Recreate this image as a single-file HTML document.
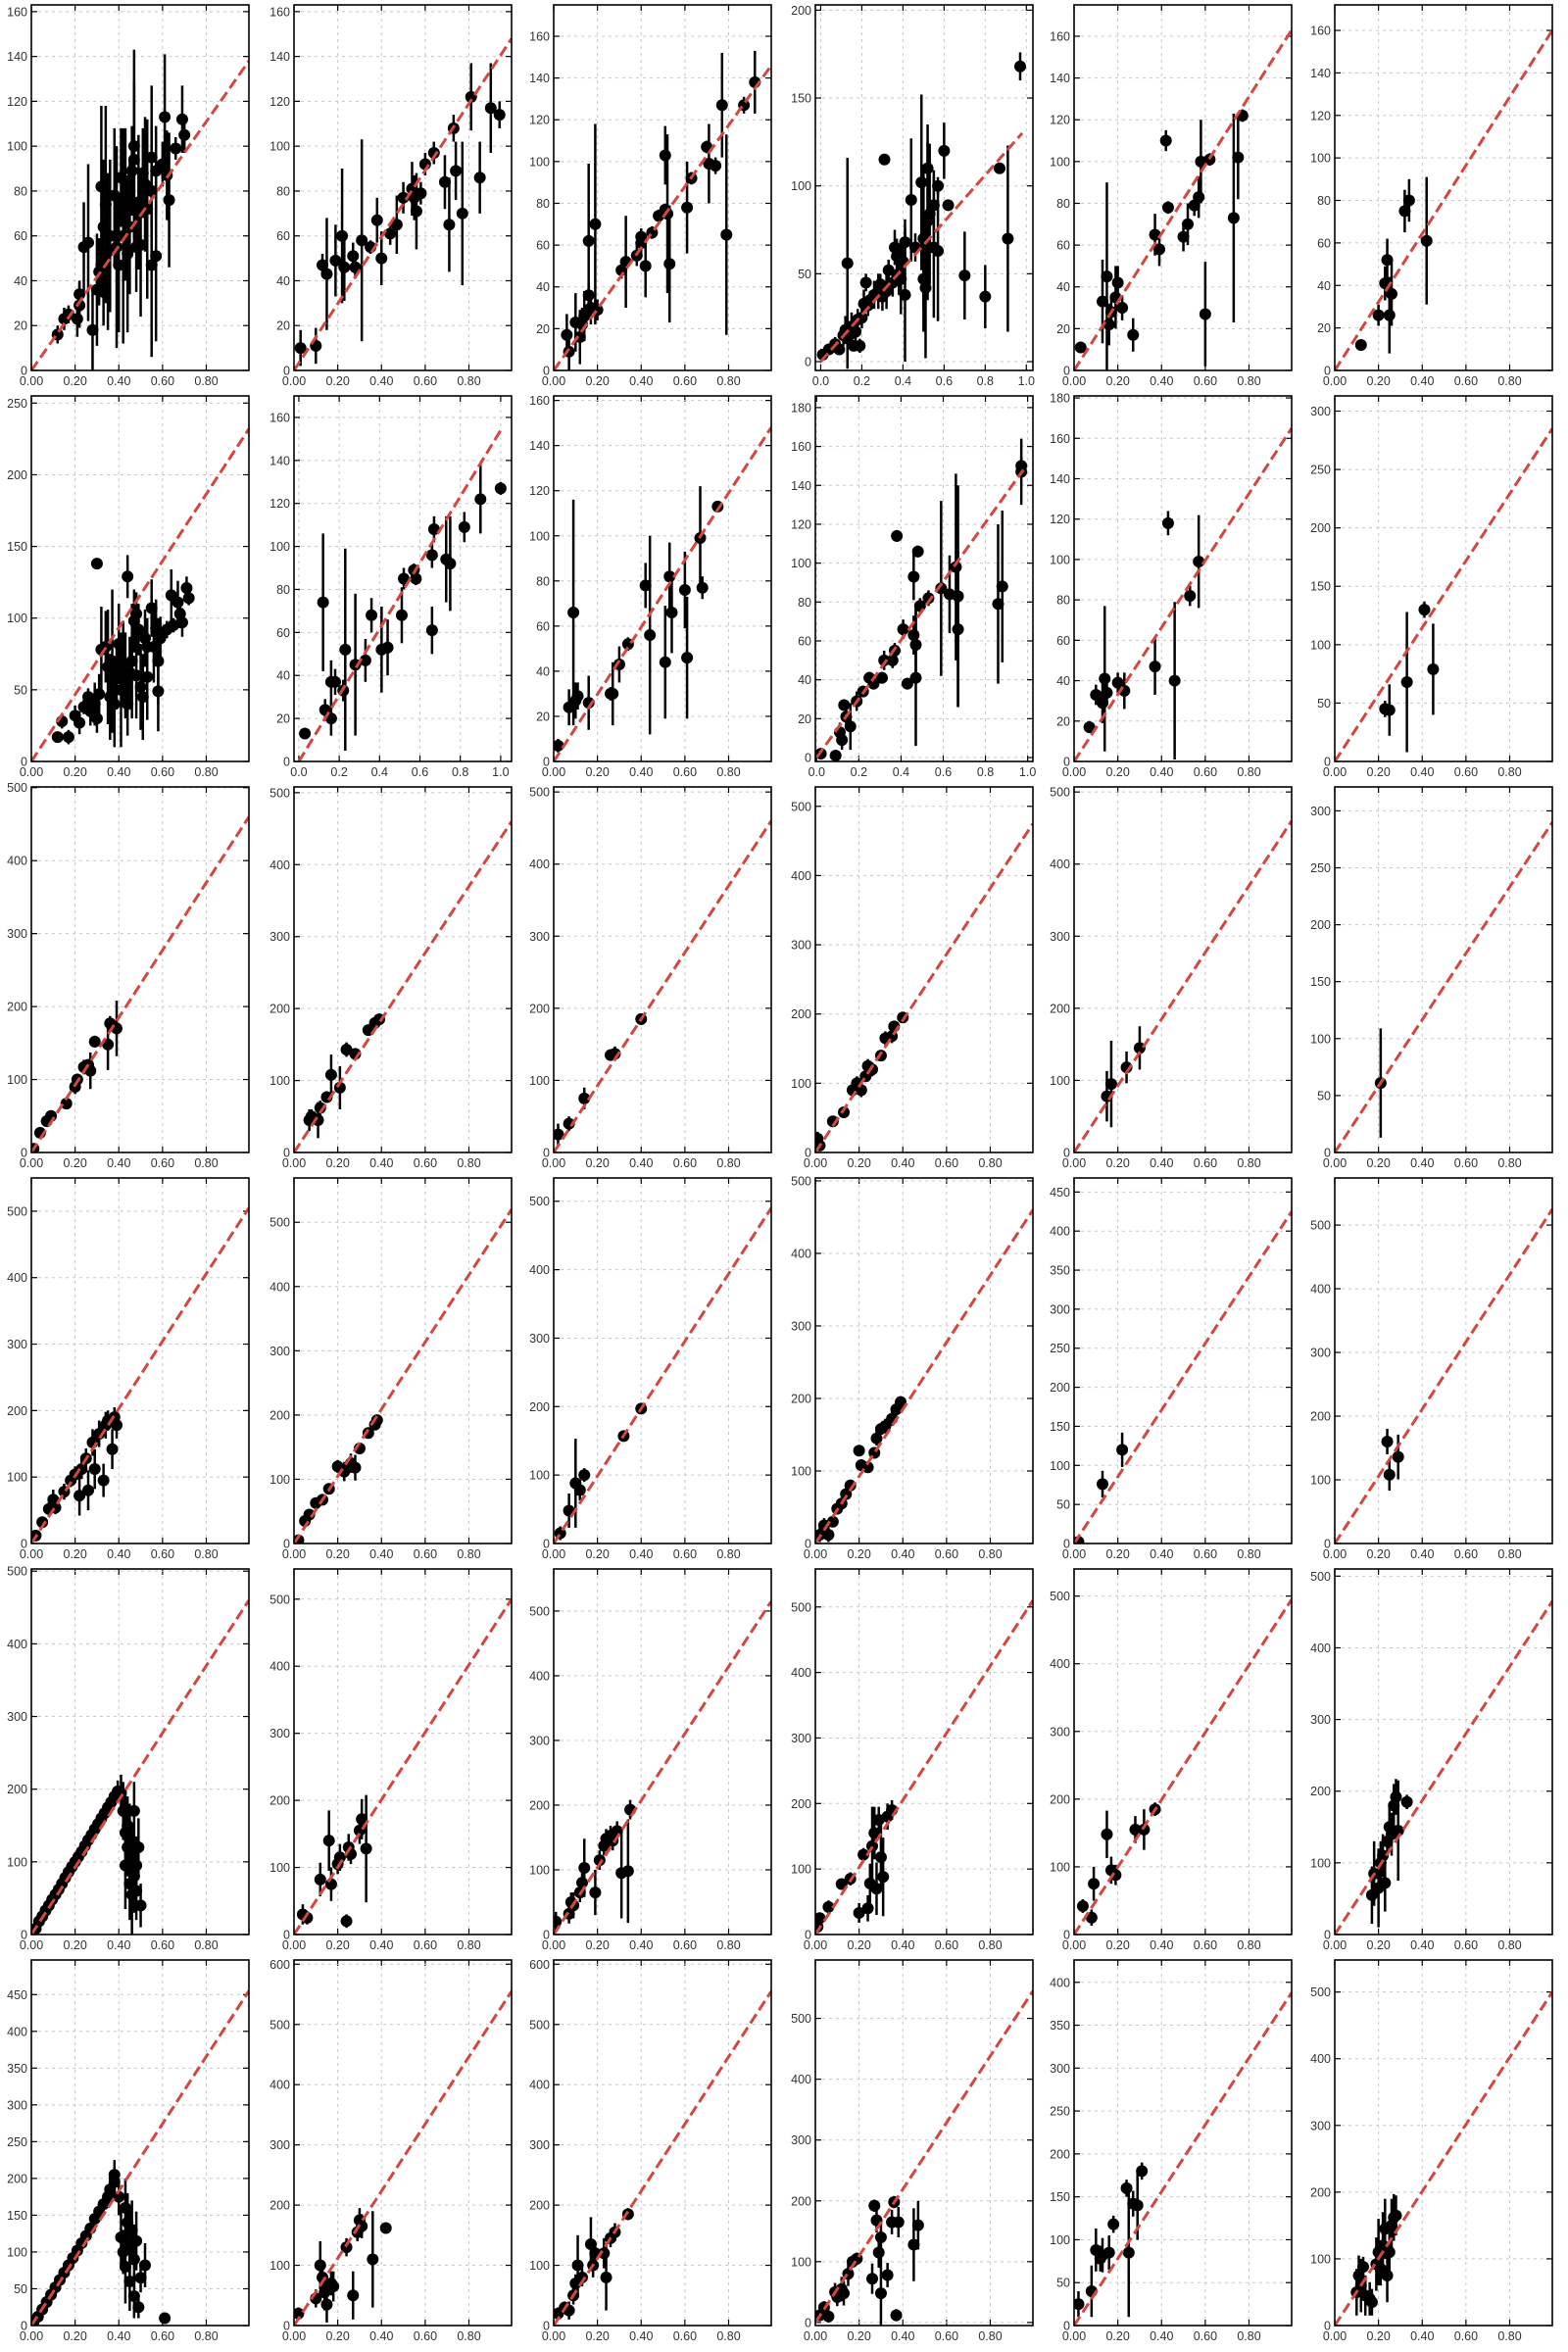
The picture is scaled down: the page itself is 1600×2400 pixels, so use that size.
<!DOCTYPE html>
<html><head><meta charset="utf-8"><title>Scatter grid</title>
<style>
html,body{margin:0;padding:0;background:#fff;}
svg{display:block;}
text{font-family:"Liberation Sans","DejaVu Sans",sans-serif;font-size:12.5px;fill:#333;}
</style></head>
<body>
<svg id="chart" width="1600" height="2400" viewBox="0 0 1600 2400" xmlns="http://www.w3.org/2000/svg"></svg>
<script>
// ---------- layout (not data) ----------
const colLefts = [32, 300, 565, 832, 1096, 1362];
const rowTops = [5, 404, 803, 1202, 1601, 2000];
const PW = 222, PH = 373;

// ---------- axis config per panel ----------
const yMins  = [0,0,0,-5,0,0, 0,0,0,-2,0,0, 0,0,0,0,0,0, 0,0,0,0,0,0, 0,0,0,0,0,0, 0,0,0,-5,0,0];
const yMaxs  = [163,163,175,203,175,172, 255,170,162,186,181,313, 501,508,507,528,507,321, 550,569,534,504,468,574, 503,545,565,558,540,510, 497,607,607,596,426,548];
const ySteps = [20,20,20,50,20,20, 50,20,20,20,20,50, 100,100,100,100,100,50, 100,100,100,100,50,100, 100,100,100,100,100,100, 50,100,100,100,50,100];
const xMins  = [0,0,0,-0.026,0,0, 0,-0.024,0,-0.006,0,0, 0,0,0,0,0,0, 0,0,0,0,0,0, 0,0,0,0,0,0, 0,0,0,0,0,0];
const xMaxs  = [0.995,0.995,0.995,1.032,0.995,0.995, 0.995,1.054,0.995,1.025,0.995,0.995, 0.995,0.995,0.995,0.995,0.995,0.995, 0.995,0.995,0.995,0.995,0.995,0.995, 0.995,0.995,0.995,0.995,0.995,0.995, 0.995,0.995,0.995,0.995,0.995,0.995];
const xTickDec = [2,2,2,1,2,2, 2,1,2,1,2,2, 2,2,2,2,2,2, 2,2,2,2,2,2, 2,2,2,2,2,2, 2,2,2,2,2,2];
// reference line: from (0,0) to (lineX2, lineY2)
const lineX2 = [0.995,0.995,0.995,0.98,0.995,0.995, 0.995,1.0,0.995,0.98,0.995,0.995, 0.995,0.995,0.995,0.995,0.995,0.995, 0.995,0.995,0.995,0.995,0.995,0.995, 0.995,0.995,0.995,0.995,0.995,0.995, 0.995,0.995,0.995,0.995,0.995,0.995];
const lineY2 = [138,148,146,130,163,160, 232,154,148,148,165,285, 460,460,460,475,460,290, 505,520,490,460,425,525, 460,500,515,510,495,465, 455,555,555,545,388,500];

// ---------- point data [x, y, err] ----------
const p01 = [[0.12,16,4],[0.15,23,5],[0.17,25,4],[0.21,23,8],[0.22,29,10],[0.22,34,6],[0.24,55,20],[0.26,57,35],[0.28,18,18],[0.30,36,25],[0.31,44,15],[0.32,47,12],[0.32,82,36],[0.33,64,30],[0.34,74,44],[0.33,35,15],[0.35,53,35],[0.36,60,34],[0.38,78,30],[0.39,55,45],[0.40,47,30],[0.41,86,22],[0.42,60,48],[0.43,74,34],[0.44,52,35],[0.45,64,30],[0.46,89,20],[0.47,100,43],[0.47,94,35],[0.48,55,20],[0.49,75,30],[0.50,56,32],[0.51,88,20],[0.52,83,30],[0.53,72,40],[0.55,47,41],[0.55,95,32],[0.55,80,30],[0.57,51,38],[0.57,89,20],[0.60,92,10],[0.61,113,28],[0.62,87,20],[0.63,76,30],[0.66,99,5],[0.69,112,15],[0.70,105,8]];
const p02 = [[0.03,10,8],[0.10,11,8],[0.13,47,5],[0.15,43,25],[0.19,49,16],[0.22,60,30],[0.23,46,15],[0.27,51,6],[0.28,46,5],[0.31,58,45],[0.35,55,3],[0.38,67,10],[0.40,50,12],[0.44,61,5],[0.47,65,13],[0.50,77,7],[0.54,81,12],[0.55,77,10],[0.56,71,17],[0.58,79,5],[0.60,92,5],[0.64,97,5],[0.69,84,12],[0.71,65,21],[0.73,108,6],[0.74,89,13],[0.77,70,32],[0.81,122,15],[0.85,86,16],[0.90,117,20],[0.94,114,6]];
const p03 = [[0.06,17,10],[0.07,9,9],[0.10,23,14],[0.12,16,13],[0.13,22,8],[0.14,26,12],[0.16,62,37],[0.16,36,6],[0.17,30,8],[0.19,70,48],[0.20,29,5],[0.31,48,4],[0.33,52,22],[0.38,55,5],[0.40,61,5],[0.40,64,4],[0.42,50,15],[0.45,66,3],[0.48,74,3],[0.51,77,2],[0.51,103,14],[0.52,75,38],[0.53,51,28],[0.61,78,22],[0.63,92,3],[0.70,107,3],[0.71,99,19],[0.74,98,4],[0.77,127,25],[0.79,65,48],[0.87,127,4],[0.92,138,15]];
const p04 = [[0.01,4,2],[0.04,7,3],[0.07,10,4],[0.09,7,3],[0.11,15,6],[0.12,18,8],[0.13,56,60],[0.14,15,8],[0.15,20,8],[0.16,9,3],[0.17,17,5],[0.18,24,6],[0.19,9,4],[0.20,25,6],[0.21,33,8],[0.22,45,5],[0.23,32,6],[0.24,35,5],[0.26,38,8],[0.28,40,10],[0.29,44,6],[0.30,37,8],[0.31,115,3],[0.32,40,10],[0.33,52,6],[0.35,45,8],[0.36,65,10],[0.37,60,10],[0.38,50,12],[0.39,47,20],[0.40,57,12],[0.41,38,38],[0.41,68,13],[0.44,92,35],[0.46,65,8],[0.49,102,50],[0.50,70,40],[0.50,47,30],[0.51,42,40],[0.52,80,45],[0.52,110,25],[0.53,84,40],[0.55,65,40],[0.55,89,20],[0.57,100,5],[0.57,63,40],[0.60,120,16],[0.62,89,3],[0.70,49,25],[0.80,37,18],[0.87,110,3],[0.91,70,53],[0.97,168,8]];
const p05 = [[0.03,11,0],[0.13,33,20],[0.15,45,45],[0.16,22,10],[0.17,28,8],[0.19,35,15],[0.20,42,8],[0.22,30,6],[0.27,17,8],[0.37,65,10],[0.39,58,8],[0.42,110,5],[0.43,78,3],[0.50,64,7],[0.52,70,10],[0.55,79,5],[0.57,83,10],[0.58,100,20],[0.60,27,25],[0.62,101,3],[0.73,73,50],[0.75,102,20],[0.77,122,3]];
const p06 = [[0.12,12,0],[0.20,26,5],[0.23,41,8],[0.24,52,10],[0.25,26,18],[0.26,36,15],[0.32,75,10],[0.34,80,10],[0.42,61,30]];
const p07 = [[0.12,17,3],[0.14,28,5],[0.17,17,5],[0.20,32,7],[0.22,27,8],[0.24,38,5],[0.26,45,6],[0.27,35,10],[0.29,40,15],[0.30,138,3],[0.30,30,10],[0.31,47,14],[0.32,78,30],[0.34,80,25],[0.35,66,40],[0.36,45,30],[0.37,70,50],[0.38,40,30],[0.39,60,20],[0.40,82,28],[0.41,50,40],[0.42,68,30],[0.43,60,30],[0.44,129,15],[0.44,40,22],[0.45,62,25],[0.46,70,40],[0.47,98,22],[0.48,103,15],[0.48,60,30],[0.49,92,18],[0.50,52,30],[0.51,45,30],[0.52,86,20],[0.53,59,30],[0.53,80,20],[0.55,107,20],[0.56,80,25],[0.57,93,20],[0.58,70,30],[0.58,49,28],[0.59,86,15],[0.62,92,6],[0.64,116,18],[0.65,95,5],[0.67,111,15],[0.68,103,10],[0.69,97,10],[0.71,121,8],[0.72,114,5]];
const p08 = [[0.03,13,2],[0.12,74,32],[0.13,24,5],[0.16,37,10],[0.16,20,8],[0.18,37,6],[0.22,33,5],[0.23,52,47],[0.28,45,33],[0.33,47,10],[0.36,68,8],[0.41,52,20],[0.44,53,13],[0.51,68,13],[0.52,85,5],[0.57,89,3],[0.58,85,3],[0.66,96,6],[0.66,61,11],[0.67,108,6],[0.73,94,20],[0.75,92,22],[0.82,109,7],[0.90,122,16],[1.0,127,3]];
const p09 = [[0.02,7,3],[0.07,24,8],[0.09,66,50],[0.10,27,8],[0.11,29,6],[0.16,26,12],[0.26,30,3],[0.27,30,14],[0.30,43,8],[0.34,52,3],[0.42,78,10],[0.44,56,44],[0.51,44,25],[0.53,82,15],[0.54,66,18],[0.60,76,17],[0.61,46,27],[0.67,99,23],[0.68,77,5],[0.75,113,2]];
const p10 = [[0.02,2,2],[0.09,1,1],[0.11,13,5],[0.12,9,5],[0.13,27,3],[0.14,21,5],[0.16,16,12],[0.19,29,5],[0.22,34,3],[0.25,41,3],[0.27,38,3],[0.31,41,3],[0.32,50,5],[0.36,50,4],[0.37,55,4],[0.38,114,3],[0.41,66,5],[0.43,38,3],[0.46,63,10],[0.46,93,12],[0.47,58,20],[0.47,41,35],[0.48,106,3],[0.49,78,4],[0.53,82,4],[0.59,87,45],[0.63,84,20],[0.66,98,48],[0.67,66,40],[0.67,83,57],[0.86,79,41],[0.88,88,39],[0.97,147,17],[0.97,150,5]];
const p11 = [[0.07,17,3],[0.10,33,5],[0.13,29,10],[0.14,41,36],[0.15,34,6],[0.20,39,5],[0.23,35,9],[0.37,47,14],[0.43,118,6],[0.46,40,39],[0.53,82,5],[0.57,99,23]];
const p12 = [[0.23,45,7],[0.25,44,22],[0.33,68,60],[0.41,130,7],[0.45,79,39]];
const p13 = [[0.01,5,3],[0.04,27,5],[0.07,43,5],[0.09,50,5],[0.16,67,5],[0.20,90,10],[0.21,100,8],[0.24,117,10],[0.26,120,8],[0.27,112,25],[0.29,152,8],[0.35,148,35],[0.36,177,10],[0.39,170,38]];
const p14 = [[0.07,45,15],[0.08,50,10],[0.11,45,25],[0.12,62,10],[0.15,77,8],[0.17,108,28],[0.21,90,30],[0.24,143,10],[0.28,137,8],[0.34,170,6],[0.37,180,8],[0.39,185,8]];
const p15 = [[0.02,25,15],[0.07,40,10],[0.14,75,15],[0.26,135,8],[0.28,137,10],[0.40,185,8]];
const p16 = [[0.01,20,10],[0.02,10,5],[0.08,45,5],[0.13,58,5],[0.17,90,10],[0.19,100,10],[0.21,90,10],[0.23,110,5],[0.24,125,10],[0.26,120,10],[0.30,140,8],[0.32,165,10],[0.35,168,10],[0.36,182,8],[0.40,195,8]];
const p17 = [[0.15,78,35],[0.17,95,60],[0.24,118,22],[0.30,145,30]];
const p18 = [[0.21,61,48]];
const p19 = [[0.02,12,8],[0.05,32,8],[0.08,52,10],[0.10,66,15],[0.11,54,10],[0.15,78,12],[0.18,95,10],[0.20,104,12],[0.22,72,30],[0.23,112,15],[0.25,128,15],[0.26,80,30],[0.28,152,20],[0.29,112,30],[0.31,165,20],[0.33,95,25],[0.34,178,20],[0.35,185,15],[0.37,142,30],[0.38,190,15],[0.39,178,20]];
const p20 = [[0.02,5,5],[0.05,35,5],[0.07,45,5],[0.10,63,8],[0.13,68,5],[0.16,85,8],[0.20,120,10],[0.23,112,15],[0.26,125,15],[0.28,118,20],[0.30,148,8],[0.34,172,8],[0.37,185,8],[0.38,192,8]];
const p21 = [[0.03,15,10],[0.07,48,25],[0.10,88,65],[0.12,78,15],[0.14,100,10],[0.32,157,8],[0.40,197,8]];
const p22 = [[0.02,12,10],[0.04,25,10],[0.06,12,10],[0.08,30,5],[0.10,48,8],[0.12,55,8],[0.14,68,8],[0.16,80,8],[0.20,128,5],[0.21,108,8],[0.24,105,5],[0.27,125,8],[0.28,145,10],[0.30,158,8],[0.32,162,10],[0.35,172,10],[0.37,185,10],[0.39,195,8]];
const p23 = [[0.02,2,2],[0.13,76,17],[0.22,120,22]];
const p24 = [[0.24,160,20],[0.25,108,25],[0.29,136,35]];
const p25 = [[0.02,8,5],[0.035,18,5],[0.05,25,5],[0.065,33,5],[0.08,40,5],[0.095,48,5],[0.11,55,5],[0.125,62,5],[0.14,70,5],[0.155,78,5],[0.17,86,5],[0.185,93,5],[0.20,100,5],[0.215,107,5],[0.23,114,5],[0.245,122,5],[0.26,130,5],[0.275,137,5],[0.29,145,5],[0.305,152,5],[0.32,160,5],[0.335,167,8],[0.35,175,8],[0.365,182,10],[0.38,190,12],[0.395,197,15],[0.41,195,25],[0.42,170,40],[0.43,140,60],[0.43,95,60],[0.44,120,40],[0.44,150,40],[0.45,70,50],[0.45,130,50],[0.46,110,40],[0.46,55,60],[0.47,170,40],[0.47,80,50],[0.48,95,40],[0.48,60,40],[0.49,120,40],[0.50,40,30]];
const p26 = [[0.04,30,15],[0.06,25,10],[0.12,82,25],[0.16,140,45],[0.17,75,25],[0.20,105,15],[0.21,115,20],[0.24,20,10],[0.25,130,20],[0.26,120,15],[0.30,155,20],[0.31,172,30],[0.33,128,80]];
const p27 = [[0.01,20,15],[0.07,32,15],[0.08,50,15],[0.09,45,20],[0.12,65,15],[0.13,80,15],[0.14,103,45],[0.19,65,35],[0.21,115,15],[0.23,137,15],[0.24,148,15],[0.26,153,15],[0.27,145,15],[0.29,160,15],[0.31,95,70],[0.34,98,80],[0.35,193,15]];
const p28 = [[0.01,12,10],[0.02,25,8],[0.06,42,10],[0.12,77,8],[0.16,85,10],[0.20,33,15],[0.22,122,10],[0.24,40,20],[0.25,78,30],[0.26,135,60],[0.27,155,40],[0.28,70,40],[0.29,175,20],[0.30,118,50],[0.31,88,60],[0.33,180,20],[0.35,190,15]];
const p29 = [[0.04,42,10],[0.08,25,12],[0.09,75,25],[0.15,148,35],[0.17,95,20],[0.19,88,15],[0.28,155,20],[0.32,155,30],[0.37,185,10]];
const p30 = [[0.17,55,40],[0.18,85,45],[0.20,65,55],[0.21,100,30],[0.22,110,30],[0.23,72,40],[0.24,130,20],[0.25,150,30],[0.26,140,30],[0.27,180,30],[0.28,192,25],[0.29,145,70],[0.33,185,10]];
const p31 = [[0.01,5,8],[0.03,12,8],[0.05,22,8],[0.07,32,8],[0.09,42,8],[0.11,52,8],[0.13,62,8],[0.15,72,8],[0.17,82,8],[0.19,92,8],[0.21,102,8],[0.23,112,8],[0.25,122,8],[0.27,132,8],[0.29,145,8],[0.31,155,10],[0.33,165,12],[0.35,175,15],[0.36,185,20],[0.38,195,20],[0.38,205,20],[0.40,175,25],[0.41,120,40],[0.42,100,30],[0.43,80,50],[0.43,160,40],[0.44,140,40],[0.45,110,50],[0.45,60,40],[0.46,130,40],[0.47,90,40],[0.47,40,30],[0.48,115,40],[0.49,25,15],[0.50,65,20],[0.52,82,30],[0.61,10,5]];
const p32 = [[0.02,20,10],[0.10,45,15],[0.12,100,40],[0.13,80,20],[0.14,55,30],[0.15,35,30],[0.17,70,20],[0.18,65,25],[0.24,130,15],[0.27,50,40],[0.29,155,15],[0.30,175,20],[0.31,165,20],[0.36,110,80],[0.42,162,8]];
const p33 = [[0.02,20,10],[0.05,30,10],[0.07,25,15],[0.09,50,15],[0.10,70,15],[0.11,100,50],[0.13,80,15],[0.17,135,45],[0.18,100,20],[0.19,120,15],[0.23,120,25],[0.24,80,55],[0.26,145,15],[0.28,155,15],[0.34,185,10]];
const p34 = [[0.02,12,10],[0.04,25,10],[0.06,10,10],[0.09,50,15],[0.10,42,15],[0.12,55,20],[0.13,48,20],[0.15,80,20],[0.17,100,10],[0.19,105,10],[0.26,72,25],[0.27,192,10],[0.28,168,20],[0.29,115,25],[0.30,140,30],[0.30,48,60],[0.33,78,20],[0.35,165,20],[0.36,198,10],[0.37,12,10],[0.38,165,25],[0.45,128,60],[0.47,160,40]];
const p35 = [[0.02,25,15],[0.08,40,30],[0.10,88,25],[0.12,78,15],[0.13,82,20],[0.16,85,20],[0.18,118,10],[0.24,160,10],[0.25,85,75],[0.27,142,15],[0.29,140,40],[0.31,180,10]];
const p36 = [[0.10,50,35],[0.11,75,30],[0.12,60,40],[0.13,88,15],[0.14,45,30],[0.16,40,25],[0.17,35,20],[0.19,92,40],[0.20,110,50],[0.21,85,25],[0.22,120,50],[0.23,145,45],[0.24,75,40],[0.25,110,40],[0.26,150,40],[0.27,162,35],[0.28,165,30]];

const allPanels = [p01,p02,p03,p04,p05,p06,p07,p08,p09,p10,p11,p12,p13,p14,p15,p16,p17,p18,p19,p20,p21,p22,p23,p24,p25,p26,p27,p28,p29,p30,p31,p32,p33,p34,p35,p36];

// ---------- drawing ----------
const NS = 'http://www.w3.org/2000/svg';
const svg = document.getElementById('chart');
function mk(tag, attrs, parent){
  const e = document.createElementNS(NS, tag);
  for (const k in attrs) e.setAttribute(k, attrs[k]);
  parent.appendChild(e);
  return e;
}

for (let i = 0; i < 36; i++) {
  const r = Math.floor(i / 6), c = i % 6;
  const L = colLefts[c], T = rowTops[r], R = L + PW, B = T + PH;
  const x0 = xMins[i], x1 = xMaxs[i], y0 = yMins[i], y1 = yMaxs[i];
  const sx = v => L + (v - x0) / (x1 - x0) * PW;
  const sy = v => B - (v - y0) / (y1 - y0) * PH;

  const g = mk('g', {}, svg);
  
  

  const defsId = 'clip' + i;
  const cp = mk('clipPath', {id: defsId}, g);
  mk('rect', {x: L, y: T, width: PW, height: PH}, cp);

  const grid = mk('g', {}, g);
  
  
  const xStep = 0.2;
  const xMaxTick = xTickDec[i] === 1 ? 1.0 : 0.8;
  for (let k = 0; k <= Math.round(xMaxTick / xStep); k++) {
    const v = k * xStep, px = sx(v);
    mk('line', {x1: px, y1: T, x2: px, y2: B, stroke: '#c8c8c8', 'stroke-width': 1, 'stroke-dasharray': '3,4'}, grid);
    mk('line', {x1: px, y1: B, x2: px, y2: B - 6, stroke: '#000', 'stroke-width': 1.2}, grid);
    mk('line', {x1: px, y1: T, x2: px, y2: T + 6, stroke: '#000', 'stroke-width': 1.2}, grid);
    const t = mk('text', {x: px, y: B + 15, 'text-anchor': 'middle'}, grid);
    t.textContent = v.toFixed(xTickDec[i]);
    
    
  }
  for (let v = 0; v <= y1 + 1e-9; v += ySteps[i]) {
    const py = sy(v);
    mk('line', {x1: L, y1: py, x2: R, y2: py, stroke: '#c8c8c8', 'stroke-width': 1, 'stroke-dasharray': '3,4'}, grid);
    mk('line', {x1: L, y1: py, x2: L + 6, y2: py, stroke: '#000', 'stroke-width': 1.2}, grid);
    mk('line', {x1: R, y1: py, x2: R - 6, y2: py, stroke: '#000', 'stroke-width': 1.2}, grid);
    const t = mk('text', {x: L - 4, y: py + 4.5, 'text-anchor': 'end'}, grid);
    t.textContent = String(v);
    
    
  }

  const dg = mk('g', {'clip-path': 'url(#' + defsId + ')'}, g);
  
  
  const pts = allPanels[i];
  pts.forEach(p => {
    if (p[2] > 0) {
      const eb = mk('line', {x1: sx(p[0]), y1: sy(p[1] - p[2]), x2: sx(p[0]), y2: sy(p[1] + p[2]), stroke: '#000', 'stroke-width': 2.5}, dg);
      
      
    }
  });
  pts.forEach(p => {
    const ci = mk('circle', {cx: sx(p[0]), cy: sy(p[1]), r: 6, fill: '#000'}, dg);
    
    
  });

  const ln = mk('line', {x1: sx(0), y1: sy(0), x2: sx(lineX2[i]), y2: sy(lineY2[i]), stroke: '#d2473f', 'stroke-width': 3, 'stroke-dasharray': '11,5', 'clip-path': 'url(#' + defsId + ')'}, g);
  
  

  const fr = mk('rect', {x: L, y: T, width: PW, height: PH, fill: 'none', stroke: '#000', 'stroke-width': 1.6}, g);
  
  
}
</script>
</body></html>
